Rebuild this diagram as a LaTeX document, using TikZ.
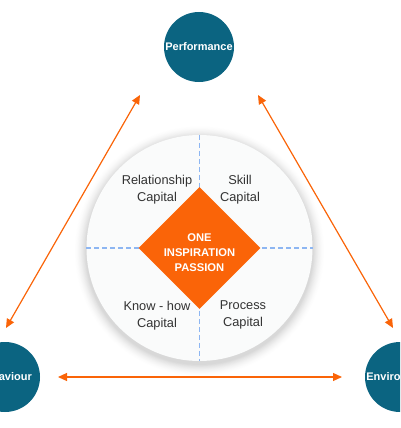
\documentclass[tikz,border=0pt]{standalone}
\usepackage{fontspec}
\setmainfont{Liberation Sans}
\usetikzlibrary{arrows.meta,shapes.geometric}
\definecolor{petrol}{HTML}{0B6481}
\definecolor{flame}{HTML}{FA6408}
\definecolor{dashblue}{HTML}{8DB6F2}
\definecolor{inktext}{HTML}{333333}
\definecolor{paper}{HTML}{FAFBFB}
\begin{document}
\begin{tikzpicture}[x=1pt, y=-1pt,
		hub/.style = {circle, fill = petrol, minimum size = 70pt, inner sep = 0pt, text = white, font = \bfseries\fontsize{11}{13}\selectfont},
		capital/.style = {text = inktext, align = center, font = \fontsize{12.8}{17}\selectfont},
		link/.style = {draw = flame, line width = 1.2pt, {Triangle[length = 9pt, width = 8pt]}-{Triangle[length = 9pt, width = 8pt]}},
		cross/.style = {draw = dashblue, dash pattern = on 5pt off 3pt, line width = 1.1pt}]
		\useasboundingbox (0, 0) rectangle (400, 428);
		\begin{scope}
		\clip (0, 0) rectangle (400, 428);
		% soft shadow round the wheel
		\foreach \r in {0, 0.05, ..., 1}{
			\fill[opacity = \r * 0.017, fill = black] (199.5, 251) circle ({113 + 14 * (1 - \r)});}
		\node[circle, fill = paper, minimum size = 226pt, inner sep = 0pt] (wheel) at (199.5, 248) {};
		\draw[cross] (wheel.north) -- (wheel.south);
		\draw[cross] (wheel.west) -- (wheel.east);
		\node[diamond, fill = flame, minimum size = 122pt, inner sep = 0pt] (core) at (wheel) {};
		\node[text = white, align = center, font = \bfseries\fontsize{11.2}{15}\selectfont] (motto) at ([yshift = -5pt]core) {ONE\\INSPIRATION\\PASSION};
		\foreach \x/\y/\name/\txt in {157/190/relation/Relationship, 240/190/skill/Skill, 157/316/knowhow/Know - how, 243/315/process/Process}{
			\node[capital] (\name) at (\x, \y) {\txt\\Capital};}
		% the three hubs
		\node[hub] (perf) at (199, 47) {Performance};
		\node[hub] (behav) at (5, 377) {Behaviour};
		\node[hub] (env) at (400, 377) {Environment};
		\coordinate (perfL) at (140, 95);
		\coordinate (perfR) at (258, 95);
		\coordinate (behavT) at (6, 328);
		\coordinate (behavR) at (58, 377);
		\coordinate (envT) at (393, 328);
		\coordinate (envL) at (342, 377);
		\draw[link] (perfL) -- (behavT);
		\draw[link] (perfR) -- (envT);
		\draw[link] (behavR) -- (envL);
		\end{scope}
		\end{tikzpicture}
\end{document}
